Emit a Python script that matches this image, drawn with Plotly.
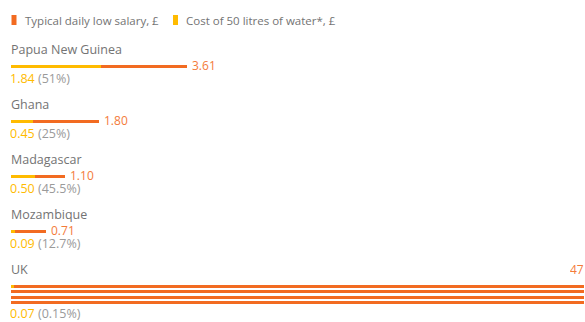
import math
import plotly.graph_objects as go

countries = ["Papua New Guinea", "Ghana", "Madagascar", "Mozambique", "UK"]
salary = [3.61, 1.80, 1.10, 0.71, 47]
water = [1.84, 0.45, 0.50, 0.09, 0.07]
salary_labels = ["3.61", "1.80", "1.10", "0.71", "47"]
water_labels = ["1.84", "0.45", "0.50", "0.09", "0.07"]
pct_labels = ["(51%)", "(25%)", "(45.5%)", "(12.7%)", "(0.15%)"]
legend_names = ["Typical daily low salary, £", "Cost of 50 litres of water*, £"]

ORANGE = "#f26b21"
YELLOW = "#ffbb00"
ORANGE_TXT = "#f47b3a"
GREY = "#737373"
FONT = "Open Sans"

W, H = 585, 322
PX_PER = 48.75          # pixels per £
X0 = 11                 # left edge of bars in px
xmin = -X0 / PX_PER
xmax = (W - X0) / PX_PER

group_top = [49, 104, 159, 214, 269]
bar_dy = 17.5
row_gap = 5.4
bar_th = 3

fig = go.Figure()
annotations = []

for i, c in enumerate(countries):
    ylab = group_top[i]
    ybar = ylab + bar_dy
    # wrap salary bar into equal rows if it exceeds the visible width
    n_rows = max(1, math.ceil(salary[i] / xmax))
    rows = [salary[i] / n_rows] * n_rows
    ys = [ybar + k * row_gap for k in range(n_rows)]
    fig.add_trace(go.Bar(orientation="h", y=ys, x=rows, base=[0] * n_rows,
                         width=bar_th, marker=dict(color=ORANGE, line=dict(width=0)),
                         showlegend=False, hoverinfo="skip"))
    fig.add_trace(go.Bar(orientation="h", y=[ybar], x=[water[i]], base=[0],
                         width=bar_th, marker=dict(color=YELLOW, line=dict(width=0)),
                         showlegend=False, hoverinfo="skip"))
    annotations.append(dict(x=0, y=ylab, xref="x", yref="y", text=c, showarrow=False,
                            xanchor="left", yanchor="middle", xshift=-2,
                            font=dict(family=FONT, size=12.5, color=GREY)))
    if n_rows == 1:
        annotations.append(dict(x=salary[i], y=ybar - 1.5, xref="x", yref="y",
                                text=salary_labels[i], showarrow=False, height=12,
                                xanchor="left", yanchor="middle", xshift=3,
                                font=dict(family=FONT, size=12, color=ORANGE_TXT)))
    else:
        annotations.append(dict(x=1, y=ylab, xref="paper", yref="y",
                                text=salary_labels[i], showarrow=False, height=12,
                                xanchor="right", yanchor="middle", xshift=1,
                                font=dict(family=FONT, size=12, color=ORANGE_TXT)))
    ysub = ys[-1] + (11.8 if n_rows == 1 else 11.0)
    annotations.append(dict(x=0, y=ysub, xref="x", yref="y",
                            text=f'<span style="color:{YELLOW}">{water_labels[i]}</span> {pct_labels[i]}',
                            showarrow=False, xanchor="left", yanchor="middle", xshift=-3,
                            font=dict(family=FONT, size=12.5, color="#9a9a9a")))

# legend
shapes = []
leg_items = [(11.5, ORANGE, 23, legend_names[0]), (173, YELLOW, 184, legend_names[1])]
for lx, col, tx, name in leg_items:
    shapes.append(dict(type="rect", xref="paper", yref="y", x0=lx / W, x1=(lx + 5) / W,
                       y0=15, y1=25, fillcolor=col, line=dict(width=0), layer="above"))
    annotations.append(dict(x=tx / W, y=20, xref="paper", yref="y", text=name,
                            showarrow=False, xanchor="left", yanchor="middle",
                            font=dict(family=FONT, size=11.5, color=GREY)))

fig.update_layout(
    width=W, height=H, margin=dict(l=0, r=0, t=0, b=0),
    paper_bgcolor="white", plot_bgcolor="white",
    barmode="overlay", bargap=0,
    xaxis=dict(range=[xmin, xmax], visible=False, fixedrange=True),
    yaxis=dict(range=[H, 0], visible=False, fixedrange=True),
    annotations=annotations, shapes=shapes, showlegend=False,
)
fig.write_html("out.html")
